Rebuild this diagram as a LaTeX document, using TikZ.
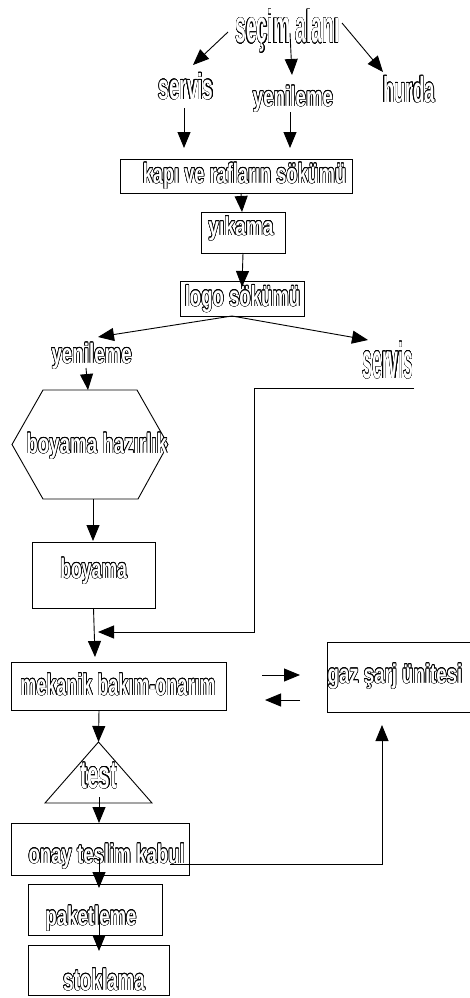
\documentclass[tikz,border=0pt]{standalone}
\usepackage{fontspec}
\setmainfont{Liberation Sans}
\usepackage{graphicx}
\usepackage{contour}
\contourlength{0.8pt}
\usetikzlibrary{arrows.meta,fit}

% hollow, horizontally condensed bold label: size, x-scale, text
\newcommand\olbl[3]{\scalebox{#2}[1]{\fontsize{#1pt}{#1pt}\selectfont\bfseries\color{white}\contour{black}{#3}}}

\begin{document}
\begin{tikzpicture}[x=1pt,y=-1pt,
  txt/.style={inner sep=0pt,outer sep=0pt,anchor=base},
  box/.style={draw,line width=0.9pt,inner sep=0pt,outer sep=0pt},
  shapebox/.style={inner sep=0pt,outer sep=0pt},
  arr/.style={line width=0.9pt,-{Triangle[length=16pt,width=13pt]}},
  ln/.style={line width=0.9pt}]
\useasboundingbox (0,0) rectangle (469,998);

% process boxes
\node[box,fit={(120,159) (352,193)}] (kapi) {};
\node[box,fit={(201,212) (285,253)}] (yikama) {};
\node[box,fit={(180,281) (304,316)}] (logo) {};
\node[shapebox,fit={(12,390) (168,499)}] (hex) {};
\node[box,fit={(32,542) (155,608)}] (boyama) {};
\node[box,fit={(11,662) (226,710)}] (mek) {};
\node[box,fit={(327,642) (471,712)}] (gaz) {};
\node[shapebox,fit={(45,742) (152,803)}] (tri) {};
\node[box,fit={(11,823) (189,875)}] (onay) {};
\node[box,fit={(28,884) (162,935)}] (paket) {};
\node[box,fit={(28,945) (169,995)}] (stok) {};

% hexagon and triangle outlines
\draw[ln] (hex.west) -- ([xshift=31]hex.north west) -- ([xshift=-31]hex.north east)
  -- (hex.east) -- ([xshift=-30]hex.south east) -- ([xshift=31]hex.south west) -- cycle;
\draw[ln] (tri.south west) -- (tri.north) -- (tri.south east) -- cycle;

% labels
\node[txt] (t-secim) at (287.5,43) {\olbl{46}{0.42}{seçim alanı}};
\node[txt] (t-servis) at (186,99) {\olbl{36}{0.53}{servis}};
\node[txt] (t-yen1) at (293,106) {\olbl{28}{0.67}{yenileme}};
\node[txt] (t-hurda) at (409,102) {\olbl{36}{0.52}{hurda}};
\node[txt] (t-kapi) at (244.5,183) {\olbl{28}{0.65}{kapı ve rafların sökümü}};
\node[txt] (t-yikama) at (241,235) {\olbl{26}{0.74}{yıkama}};
\node[txt] (t-logo) at (242.5,306) {\olbl{29}{0.64}{logo sökümü}};
\node[txt] (t-yen2) at (91.7,363) {\olbl{28}{0.67}{yenileme}};
\node[txt] (t-servis2) at (388,378) {\olbl{50}{0.35}{servis}};
\node[txt] (t-hazir) at (96.7,453) {\olbl{28}{0.67}{boyama hazırlık}};
\node[txt] (t-boyama) at (93.7,578) {\olbl{28}{0.63}{boyama}};
\node[txt] (t-mek) at (118,695) {\olbl{30}{0.60}{mekanik bakım-onarım}};
\node[txt] (t-gaz) at (395,683) {\olbl{27}{0.69}{gaz şarj ünitesi}};
\node[txt] (t-test) at (99,788) {\olbl{39}{0.53}{test}};
\node[txt] (t-onay) at (106.7,863) {\olbl{27}{0.69}{onay teslim kabul}};
\node[txt] (t-paket) at (91,925) {\olbl{27}{0.69}{paketleme}};
\node[txt] (t-stok) at (104,990) {\olbl{30}{0.63}{stoklama}};

% connectors
\draw[arr] ([shift={(-59.5,-11)}]t-secim.base) -- ([shift={(7,-34)}]t-servis.base);
\draw[arr] ([shift={(2.5,-10)}]t-secim.base) -- ([shift={(-1,-31)}]t-yen1.base);
\draw[arr] ([shift={(54.5,-20)}]t-secim.base) -- ([shift={(-26,-30)}]t-hurda.base);
\draw[arr] ([shift={(-2,9)}]t-servis.base) -- ([shift={(-52,-11)}]kapi.north);
\draw[arr] ([shift={(-3,6)}]t-yen1.base) -- ([shift={(54,-11)}]kapi.north);
\draw[arr] ([shift={(5,0)}]kapi.south) -- ([shift={(-1,0)}]yikama.north);
\draw[arr] (yikama.south) -- ([shift={(0,6)}]logo.north);
\draw[arr] ([shift={(-10,0)}]logo.south) -- ([shift={(6.3,-26)}]t-yen2.base);
\draw[arr] ([shift={(-10,0)}]logo.south) -- ([shift={(-20,-38)}]t-servis2.base);
\draw[arr] ([shift={(-5.7,5)}]t-yen2.base) -- ([shift={(-2,0)}]hex.north);
\draw[arr] ([shift={(3,0)}]hex.south) -- ([shift={(-0.5,-1)}]boyama.north);
\draw[arr] (boyama.south) -- ([shift={(-23.5,-5)}]mek.north);
\draw[arr] ([shift={(26,10)}]t-servis2.base) -- ++(-160,0) |- ([shift={(-20.5,-30)}]mek.north);
\draw[arr] ([shift={(-19.5,0)}]mek.south) -- (tri.north);
\draw[arr] ([shift={(0.5,-6)}]tri.south) -- ([shift={(-1,0)}]onay.north);
\draw[arr] ([shift={(-1,-17)}]onay.south) -- ([shift={(4,4)}]paket.north);
\draw[arr] ([shift={(4,-15)}]paket.south) -- ([shift={(0.5,6)}]stok.north);
\draw[arr] ([shift={(-19,15)}]onay.east) -| ([shift={(-17,13)}]gaz.south);
\draw[arr] ([shift={(36,-11)}]mek.east) -- ([shift={(-27,-2)}]gaz.west);
\draw[arr] ([shift={(-27,23)}]gaz.west) -- ([shift={(39,14)}]mek.east);
\end{tikzpicture}
\end{document}
